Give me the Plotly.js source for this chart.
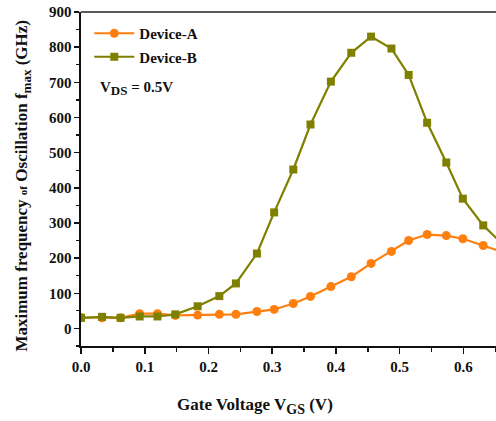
<!DOCTYPE html>
<html>
<head>
<meta charset="utf-8">
<script src="https://cdn.plot.ly/plotly-3.0.1.min.js"></script>
<style>html,body{margin:0;padding:0;background:#fff;}#chart{width:496px;height:421px;}</style>
</head>
<body>
<div id="chart"></div>
<script>
const vgs = [0, 0.033, 0.062, 0.092, 0.12, 0.148, 0.183, 0.217, 0.243, 0.276, 0.303, 0.333, 0.36, 0.392, 0.424, 0.455, 0.487, 0.514, 0.543, 0.573, 0.599, 0.631, 0.66];
const deviceA = [31, 30, 30, 42, 42, 37, 38, 40, 40, 48, 54, 71, 91, 119, 147, 185, 219, 250, 267, 264, 255, 236, 218];
const deviceB = [30, 33, 30, 34, 34, 40, 63, 92, 128, 213, 330, 452, 580, 702, 784, 830, 796, 721, 585, 472, 369, 293, 242];
const seriesNames = ["Device-A", "Device-B"];
const xTickVals = [0, 0.1, 0.2, 0.3, 0.4, 0.5, 0.6];
const xTickText = ["0.0", "0.1", "0.2", "0.3", "0.4", "0.5", "0.6"];
const yTickVals = [0, 100, 200, 300, 400, 500, 600, 700, 800, 900];

const FONT = "Liberation Serif";
const orange = "#ff7f0e";
const olive = "#808000";

const traces = [
  {x: vgs, y: deviceA, name: seriesNames[0], type: "scatter", mode: "lines+markers",
   line: {color: orange, width: 2.2}, marker: {symbol: "circle", size: 9, color: orange}, legendgroup: "a"},
  {x: vgs, y: deviceB, name: seriesNames[1], type: "scatter", mode: "lines+markers",
   line: {color: olive, width: 2.2}, marker: {symbol: "square", size: 8, color: olive}, legendgroup: "b"}
];

const tickFont = {family: FONT, size: 15, color: "#111", weight: "bold"};
const layout = {
  width: 496, height: 421,
  margin: {l: 81, r: 0, t: 12, b: 75, pad: 0},
  paper_bgcolor: "#fff", plot_bgcolor: "#fff",
  font: {family: FONT},
  showlegend: true,
  legend: {x: 0.02, y: 0.985, xanchor: "left", yanchor: "top", bgcolor: "rgba(0,0,0,0)",
           font: {family: FONT, size: 15, color: "#111", weight: "bold"}, tracegroupgap: 1, itemwidth: 40},
  xaxis: {range: [0, 0.651], tickvals: xTickVals, ticktext: xTickText, showgrid: false, zeroline: false,
          showline: true, linecolor: "#111", linewidth: 1.6, ticks: "outside", ticklen: 6, tickwidth: 1.5, tickcolor: "#111",
          minor: {dtick: 0.05, ticks: "outside", ticklen: 4, tickwidth: 1.3, tickcolor: "#111", showgrid: false},
          tickfont: tickFont},
  yaxis: {range: [-50, 900], tickvals: yTickVals, showgrid: false, zeroline: false,
          showline: true, linecolor: "#111", linewidth: 1.6, ticks: "outside", ticklen: 5, tickwidth: 1.5, tickcolor: "#111",
          minor: {dtick: 50, ticks: "outside", ticklen: 3, tickwidth: 1.3, tickcolor: "#111", showgrid: false},
          tickfont: tickFont},
  shapes: [
    {type: "line", xref: "paper", yref: "paper", x0: 0, x1: 1, y0: 1, y1: 1, line: {color: "#222", width: 1.6}}
  ],
  annotations: [
    {xref: "paper", yref: "paper", x: 0.42, y: -0.18, xanchor: "center", yanchor: "middle", showarrow: false,
     text: "Gate Voltage V<sub><span style='font-size:14px'>GS</span></sub> (V)", font: {family: FONT, size: 17, color: "#111", weight: "bold"}},
    {xref: "paper", yref: "paper", x: -0.14, y: 0.48, xanchor: "center", yanchor: "middle", showarrow: false, textangle: -90,
     text: "Maximum frequency <span style='font-size:11px'>of</span> Oscillation f<sub><span style='font-size:13px'>max</span></sub> (GHz)",
     font: {family: FONT, size: 17, color: "#111", weight: "bold"}},
    {xref: "paper", yref: "paper", x: 0.04, y: 0.77, xanchor: "left", yanchor: "middle", showarrow: false,
     text: "V<sub><span style='font-size:13px'>DS</span></sub> = 0.5V", font: {family: FONT, size: 15, color: "#111", weight: "bold"}}
  ]
};

Plotly.newPlot("chart", traces, layout, {staticPlot: true, displayModeBar: false});
</script>
</body>
</html>
